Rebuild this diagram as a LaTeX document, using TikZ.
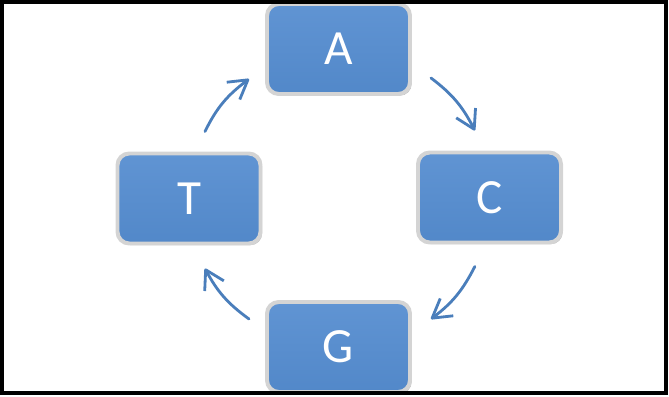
\documentclass[tikz,border=0pt]{standalone}
\usepackage{fontspec}
\setmainfont{Carlito}
\usetikzlibrary{arrows.meta,shadows}

\definecolor{boxblue}{RGB}{82,136,201}
\definecolor{boxtop}{RGB}{96,148,211}
\definecolor{arrowblue}{RGB}{74,126,187}

\begin{document}
\begin{tikzpicture}[-]
                \tikzstyle{letterbox}=[rectangle,rounded corners=10pt,draw=black!17,line width=3.4pt,top color=boxtop,bottom color=boxblue,minimum width=4.29cm,minimum height=2.7cm,inner sep=0pt,text=white,font=\fontsize{42}{44}\selectfont,drop shadow={shadow xshift=1.4pt,shadow yshift=-1.4pt,fill=black!55}]
                \tikzstyle{flowarrow}=[draw=arrowblue,line width=2.4pt,line cap=round,-{Straight Barb[length=0.55cm,width=0.65cm,line join=round]}]
                \useasboundingbox (0,0) rectangle (20.07,11.88);
                \foreach \name/\x/\y in {A/10.155/10.41, C/14.685/5.955, G/10.155/1.47, T/5.67/5.925}
                        \node[letterbox] (B-\name) at (\x,\y) {\name};

                    \draw[flowarrow] ([shift={(0.48,0.60)}]B-T.north) to[out=64,in=217] ([shift={(-0.48,-0.90)}]B-A.west);
                    \draw[flowarrow] ([shift={(0.57,-0.87)}]B-A.east) to[out=-37,in=117] ([shift={(-0.44,0.60)}]B-C.north);
                    \draw[flowarrow] ([shift={(-0.44,-0.66)}]B-C.south) to[out=-117,in=37] ([shift={(0.57,0.84)}]B-G.east);
                    \draw[flowarrow] ([shift={(-0.48,0.84)}]B-G.west) to[out=144,in=-62] ([shift={(0.48,-0.69)}]B-T.south);

                    \draw[line width=2.8pt] (0.06,0.09) rectangle (19.98,11.82);
            \end{tikzpicture}
\end{document}
